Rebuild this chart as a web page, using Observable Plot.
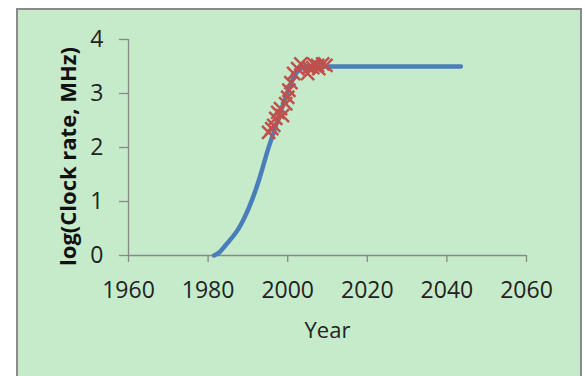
<!DOCTYPE html>
<html><head><meta charset="utf-8">
<script src="https://cdn.jsdelivr.net/npm/d3@7"></script>
<script src="https://cdn.jsdelivr.net/npm/@observablehq/plot@0.6"></script>
<style>
html,body{margin:0;padding:0;background:#fff;width:585px;height:376px;overflow:hidden;}
#panel{position:absolute;left:16px;top:8px;width:562px;height:400px;background:#C6EBCB;border:2px solid #8a8a8a;border-bottom:none;}
#chart{position:absolute;left:0;top:0;}
</style></head><body>
<div id="panel"></div><div id="chart"></div>
<script>
const curveYears = [1981.5, 1983, 1984.5, 1986, 1987.5, 1989, 1991, 1993, 1995, 1997, 1999, 2000.5, 2002, 2003.5, 2005, 2007, 2043.5];
const curveValues = [0, 0.07, 0.2, 0.33, 0.48, 0.68, 1.02, 1.45, 1.95, 2.4, 2.83, 3.13, 3.36, 3.47, 3.5, 3.5, 3.5];
const obsYears = [1995.2, 1996.0, 1996.5, 1997.0, 1997.5, 1998.2, 1998.7, 1999.5, 2000.0, 2000.3, 2000.8, 2001.5, 2002.5, 2003.3, 2005.0, 2005.3, 2006.3, 2006.5, 2007.5, 2007.8, 2008.8, 2009.6];
const obsValues = [2.28, 2.35, 2.41, 2.54, 2.65, 2.72, 2.59, 2.81, 2.93, 3.06, 3.2, 3.37, 3.46, 3.55, 3.37, 3.48, 3.48, 3.55, 3.52, 3.46, 3.55, 3.52];
const xTicks = [1960, 1980, 2000, 2020, 2040, 2060];
const yTicks = [0, 1, 2, 3, 4];
const xLabel = "Year";
const yLabel = "log(Clock rate, MHz)";

const curve = curveYears.map((x, i) => ({x, y: curveValues[i]}));
const obs = obsYears.map((x, i) => ({x, y: obsValues[i]}));

const chart = Plot.plot({
  width: 585, height: 376,
  marginLeft: 128, marginRight: 59, marginTop: 39, marginBottom: 121,
  style: {background: "transparent", fontFamily: "'Open Sans', sans-serif", fontSize: "23px", color: "#222", overflow: "visible"},
  x: {domain: [1960, 2060]},
  y: {domain: [0, 4]},
  marks: [
    Plot.ruleX([1960], {stroke: "#888", strokeWidth: 1.3}),
    Plot.ruleY([0], {stroke: "#888", strokeWidth: 1.3}),
    Plot.axisX({ticks: xTicks, tickFormat: d => String(d), tickSize: 7, tickPadding: 19, stroke: "#888", strokeWidth: 1.3, label: null}),
    Plot.axisY({ticks: yTicks, tickFormat: d => String(d), tickSize: 9, tickPadding: 16, stroke: "#888", strokeWidth: 1.3, label: null}),
    Plot.line(curve, {x: "x", y: "y", stroke: "#4A7EBB", strokeWidth: 4.5, curve: "monotone-x", strokeLinecap: "round"}),
    Plot.dot(obs, {x: "x", y: "y", symbol: "times", r: 6, stroke: "#C0504D", strokeWidth: 2.5}),
    Plot.text([xLabel], {text: d => d, frameAnchor: "bottom", lineAnchor: "middle", dy: 75, fontSize: 22, fill: "#222"}),
    Plot.text([yLabel], {text: d => d, frameAnchor: "left", textAnchor: "middle", lineAnchor: "middle", rotate: -90, dx: -60, dy: 9, fontSize: 22, fontWeight: "bold", fill: "#111"})
  ]
});
document.getElementById("chart").appendChild(chart);
</script>
</body></html>
